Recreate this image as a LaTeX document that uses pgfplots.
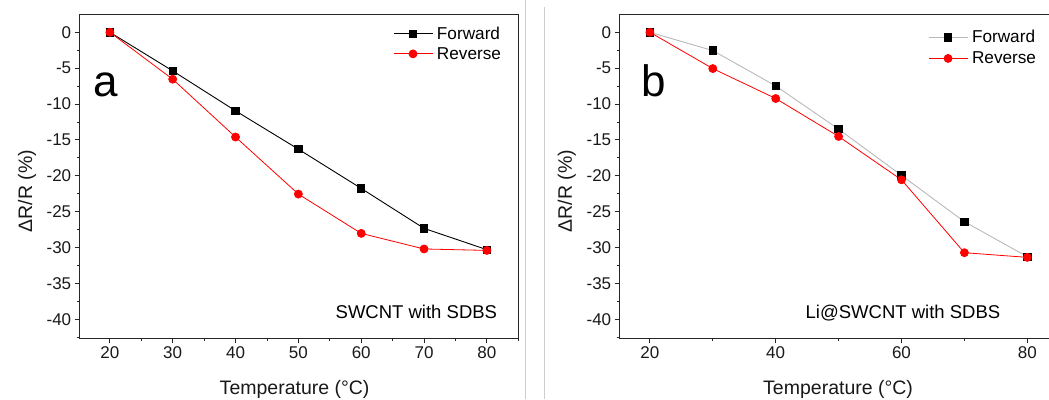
\documentclass[border=0pt]{standalone}
\usepackage{pgfplots}
\pgfplotsset{compat=1.18}
\usepackage{fontspec}
\setmainfont{Liberation Sans}

\definecolor{myred}{RGB}{255,0,0}
\definecolor{fwgray}{RGB}{185,185,185}
\definecolor{sepgray}{RGB}{205,205,205}

\pgfplotsset{
 panel/.style={
  scale only axis, height=323.6pt,
  ymin=-42.65, ymax=2.45, xmin=15.2,
  axis line style={line width=1pt, black!85},
  tick style={line width=0.9pt, black!85},
  tick align=outside, xtick pos=bottom, ytick pos=left,
  major tick length=5pt, minor tick length=3pt,
  ytick={-40,-35,...,0},
  yticklabels={-40,-35,-30,-25,-20,-15,-10,-5,0},
  minor ytick={-42.5,-37.5,...,2.5},
  tick label style={font=\fontsize{17}{17}\selectfont, black!90},
  label style={font=\fontsize{19.5}{19.5}\selectfont, black!90},
  ylabel={ΔR/R (\%)},
  xlabel={Temperature (°C)},
  ylabel style={at={(axis description cs:-0.120,0.455)}, anchor=center},
  legend style={draw=none, fill=none, font=\fontsize{17.2}{17.2}\selectfont,
    inner sep=0pt, row sep=3.5pt, column sep=2.5pt, nodes={inner sep=1.5pt}},
  legend cell align=left,
  legend image code/.code={\draw[mark repeat=2,mark phase=2] plot coordinates {(0pt,0pt) (19.5pt,0pt) (39pt,0pt)};},
 },
 fw/.style={black, line width=0.9pt, mark=square*, mark size=3.7pt, mark options={solid, fill=black, draw=black}},
 rv/.style={myred, line width=0.8pt, mark=*, mark size=4pt, mark options={solid, fill=myred, draw=myred}},
}

\begin{document}
\begin{tikzpicture}
\useasboundingbox (0,0) rectangle (1049pt,399pt);
\clip (0,0) rectangle (1049pt,399pt);
\draw[sepgray, line width=0.8pt] (525pt,0) -- (525pt,399pt);
\draw[sepgray, line width=0.8pt] (544pt,0) -- (544pt,392pt);

\begin{axis}[panel, at={(79.7pt,60.7pt)}, anchor=south west,
  width=438.6pt, xmax=85,
  xtick={20,30,...,80}, xticklabels={20,30,40,50,60,70,80},
  minor xtick={15,25,...,85},
  xlabel style={at={(axis description cs:0.49,-0.175)}, anchor=base},
  legend style={at={(axis description cs:0.714,0.968)}, anchor=north west},
]
\addplot[fw] coordinates {(20,0) (30,-5.38) (40,-10.95) (50,-16.29) (60,-21.76) (70,-27.33) (80,-30.3)};
\addlegendentry{Forward}
\addplot[rv] coordinates {(20,0) (30,-6.54) (40,-14.6) (50,-22.55) (60,-28.03) (70,-30.2) (80,-30.4)};
\addlegendentry{Reverse}
\node[anchor=base west, inner sep=0pt, font=\fontsize{44}{44}\selectfont] at (axis cs:17.3,-8.92) {a};
\node[anchor=base east, inner sep=0pt, font=\fontsize{18.5}{18.5}\selectfont] at (axis cs:81.65,-39.86) {SWCNT with SDBS};
\end{axis}

\begin{axis}[panel, at={(619.7pt,60.7pt)}, anchor=south west,
  width=440.3pt, xmax=85.2,
  xtick={20,40,60,80}, xticklabels={20,40,60,80},
  minor xtick={30,50,70},
  xlabel style={at={(axis description cs:0.496,-0.175)}, anchor=base},
  legend style={at={(axis description cs:0.700,0.957)}, anchor=north west, row sep=4.5pt},
]
\addplot[fw, fwgray] coordinates {(20,0) (30,-2.55) (40,-7.47) (50,-13.5) (60,-19.95) (70,-26.4) (80,-31.28)};
\addlegendentry{Forward}
\addplot[rv] coordinates {(20,0) (30,-5.06) (40,-9.23) (50,-14.52) (60,-20.56) (70,-30.72) (80,-31.37)};
\addlegendentry{Reverse}
\node[anchor=base west, inner sep=0pt, font=\fontsize{44}{44}\selectfont] at (axis cs:18.6,-8.92) {b};
\node[anchor=base east, inner sep=0pt, font=\fontsize{18.5}{18.5}\selectfont] at (axis cs:75.73,-39.86) {Li@SWCNT with SDBS};
\end{axis}
\end{tikzpicture}
\end{document}
